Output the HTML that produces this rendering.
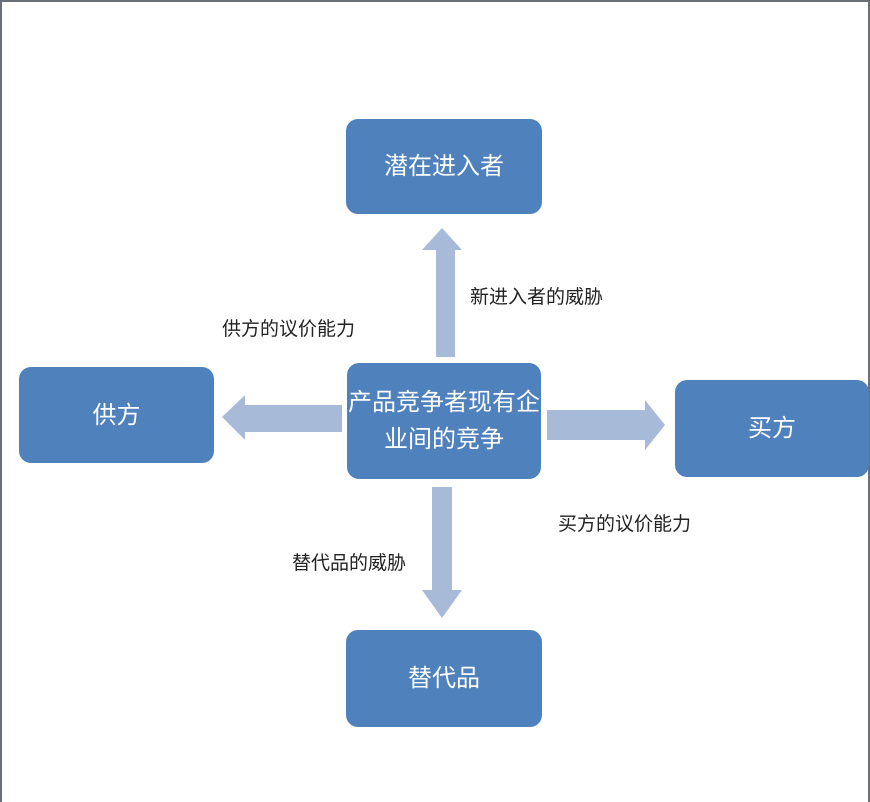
<!DOCTYPE html>
<html><head><meta charset="utf-8"><style>
body{margin:0;width:870px;height:800px;background:#fff;position:relative;overflow:hidden;font-family:"Liberation Sans","Noto Sans CJK SC",sans-serif}
.frame{position:absolute;left:0;top:0;width:866px;height:800px;border:2px solid #6b7078;border-bottom:none}
.b{position:absolute;background:#4f81bd;border-radius:12px;color:#fff;font-size:24px;display:flex;align-items:center;justify-content:center;text-align:center;line-height:37px}
.t{position:absolute;font-size:19px;color:#222;white-space:nowrap}
svg{position:absolute;left:0;top:0}
</style></head><body>
<div class="frame"></div>
<svg width="870" height="800">
<g fill="#a7bad8">
<polygon points="436,357 455,357 455,250 462,250 442,228 422,250 436,250"/>
<polygon points="342,405 342,432 245,432 245,440 222,417 245,395 245,405"/>
<polygon points="547,410 645,410 645,400 665,425 645,450 645,440 547,440"/>
<polygon points="432,487 452,487 452,590 462,590 442,618 422,590 432,590"/>
</g>
</svg>
<div class="b" style="left:346px;top:119px;width:196px;height:95px">潜在进入者</div>
<div class="b" style="left:19px;top:367px;width:195px;height:96px">供方</div>
<div class="b" style="left:347px;top:363px;width:194px;height:116px">产品竞争者现有企<br>业间的竞争</div>
<div class="b" style="left:675px;top:380px;width:194px;height:97px">买方</div>
<div class="b" style="left:346px;top:630px;width:196px;height:97px">替代品</div>
<div class="t" style="left:470px;top:282px">新进入者的威胁</div>
<div class="t" style="left:222px;top:314px">供方的议价能力</div>
<div class="t" style="left:558px;top:509px">买方的议价能力</div>
<div class="t" style="left:292px;top:548px">替代品的威胁</div>
</body></html>
